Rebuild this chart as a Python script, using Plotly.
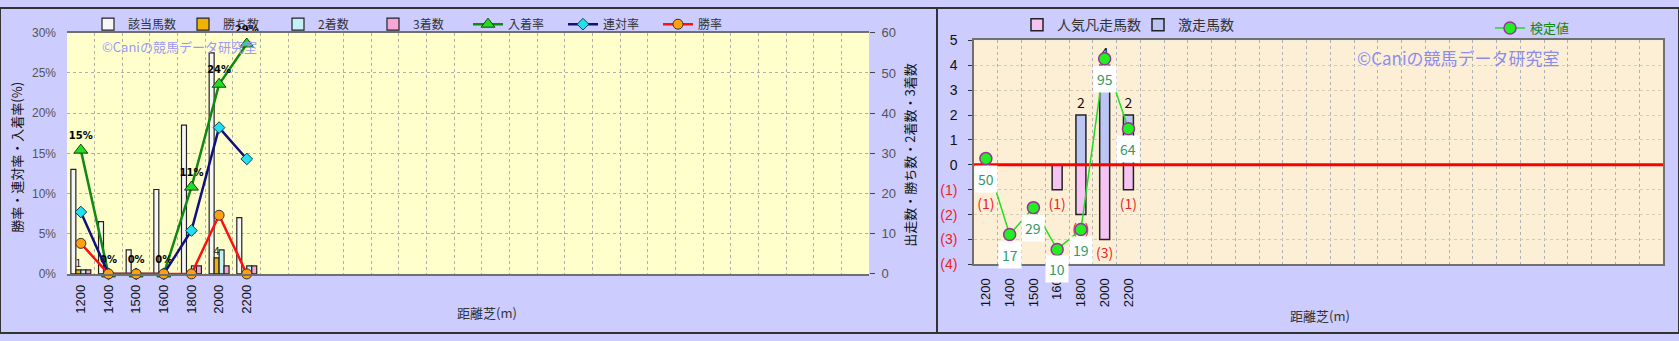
import plotly.graph_objects as go

# ---------------- data ----------------
distances = ["1200", "1400", "1500", "1600", "1800", "2000", "2200"]
right_tick_labels = ["1200", "1400", "1500", "160", "1800", "2000", "2200"]
n_slots = 29  # category slots shown on each x axis

runners = [26, 13, 6, 21, 37, 55, 14]
wins = [1, 0, 0, 0, 0, 4, 0]
seconds = [1, 0, 0, 0, 2, 6, 2]
thirds = [1, 0, 0, 0, 2, 2, 2]
place_rate = [15.4, 0, 0, 0, 10.8, 23.6, 28.6]
quinella_rate = [7.7, 0, 0, 0, 5.4, 18.2, 14.3]
win_rate = [3.8, 0, 0, 0, 0, 7.3, 0]

popular_fail = [-1, 0, 0, -1, -2, -3, -1]
upset = [0, 0, 0, 0, 2, 4, 2]
test_value = [0.25, -2.8, -1.72, -3.4, -2.6, 4.26, 1.45]
test_labels = ["50", "17", "29", "10", "19", "95", "64"]

# --------------- figure ---------------
W, H = 1679, 341
JP = "Noto Sans CJK JP"
idx = list(range(len(distances)))

def px_x(p):
    return p / W

def px_y(p):
    return 1 - p / H

fig = go.Figure()

bar_w = 0.18
bar_specs = [
    ("該当馬数", runners, "#f6f6f6", -2),
    ("勝ち数", wins, "#f0b400", -1),
    ("2着数", seconds, "#c4f0f8", 0),
    ("3着数", thirds, "#f4a6d4", 1),
]
for name, vals, col, k in bar_specs:
    txt = None
    if name == "勝ち数":
        txt = [str(v) if v > 0 else "" for v in vals]
    fig.add_trace(go.Bar(
        x=idx, y=vals, name=name, width=bar_w, offset=k * bar_w,
        marker=dict(color=col, line=dict(color="#222222", width=1.2)),
        text=txt, textposition="outside", constraintext="none", cliponaxis=False,
        textfont=dict(size=11, color="#222", family=JP),
        xaxis="x", yaxis="y", legend="legend",
    ))

fig.add_trace(go.Scatter(
    x=idx, y=place_rate, name="入着率", mode="lines+markers+text",
    line=dict(color="#118811", width=2.5),
    marker=dict(symbol="triangle-up", size=12, color="#22dd22", line=dict(color="#114411", width=1)),
    text=[f"{round(v)}%" for v in place_rate], textposition="top center",
    textfont=dict(size=10, color="#000", family="DejaVu Sans", weight="bold"),
    cliponaxis=False, xaxis="x", yaxis="y2", legend="legend",
))
fig.add_trace(go.Scatter(
    x=idx, y=quinella_rate, name="連対率", mode="lines+markers",
    line=dict(color="#101080", width=2.5),
    marker=dict(symbol="diamond", size=9, color="#22e0f0", line=dict(color="#104050", width=1)),
    cliponaxis=False, xaxis="x", yaxis="y2", legend="legend",
))
fig.add_trace(go.Scatter(
    x=idx, y=win_rate, name="勝率", mode="lines+markers",
    line=dict(color="#ff1010", width=2.5),
    marker=dict(symbol="circle", size=10, color="#ffa010", line=dict(color="#333", width=1)),
    cliponaxis=False, xaxis="x", yaxis="y2", legend="legend",
))

# right chart
rbw = 0.42
fig.add_trace(go.Bar(
    x=idx, y=popular_fail, name="人気凡走馬数", width=rbw, offset=-rbw / 2,
    marker=dict(color="#f6c4f2", line=dict(color="#222", width=1.5)),
    text=[f"({-v})" if v < 0 else "" for v in popular_fail], textposition="outside",
    constraintext="none", cliponaxis=False,
    textfont=dict(size=14, color="#ee2222", family=JP),
    xaxis="x2", yaxis="y3", legend="legend2",
))
fig.add_trace(go.Bar(
    x=idx, y=upset, name="激走馬数", width=rbw, offset=-rbw / 2,
    marker=dict(color="#bcc6f4", line=dict(color="#222", width=1.5)),
    text=[str(v) if v > 0 else "" for v in upset], textposition="outside",
    constraintext="none", cliponaxis=False,
    textfont=dict(size=14, color="#111", family=JP),
    xaxis="x2", yaxis="y3", legend="legend2",
))
fig.add_trace(go.Scatter(
    x=[-0.5, n_slots - 0.5], y=[0, 0], mode="lines", showlegend=False,
    line=dict(color="#ff0000", width=3), hoverinfo="skip",
    xaxis="x2", yaxis="y3",
))
fig.add_trace(go.Scatter(
    x=idx, y=test_value, name="検定値", mode="lines+markers",
    line=dict(color="#22dd22", width=1.5),
    marker=dict(symbol="circle", size=12, color="#22ee22", line=dict(color="#993399", width=1.5)),
    cliponaxis=False, xaxis="x2", yaxis="y3", legend="legend3",
))
for i, (v, lab) in enumerate(zip(test_value, test_labels)):
    fig.add_annotation(
        x=i, y=v, xref="x2", yref="y3", text=lab, showarrow=False, yshift=-20,
        bgcolor="#ffffff", borderpad=3,
        font=dict(size=14, color="#339966", family=JP),
    )

grid = "#b0b0b0"
xa_common = dict(
    range=[-0.5, n_slots - 0.5], tickmode="array", tickvals=idx, tickangle=-90,
    showgrid=False, zeroline=False, ticks="",
    minor=dict(tick0=0.5, dtick=1, showgrid=True, gridcolor=grid, griddash="dot", gridwidth=1, ticks=""),
    showline=True, linecolor="#707070", linewidth=1.5, mirror=True,
    tickfont=dict(size=13, color="#111", family="Liberation Sans"),
)

fig.update_layout(
    width=W, height=H, margin=dict(l=0, r=0, t=0, b=0),
    paper_bgcolor="#ccccff", plot_bgcolor="#ffffcc",
    font=dict(family=JP, color="#333"),
    xaxis=dict(domain=[px_x(67), px_x(869)], anchor="y", ticktext=distances,
               ticklabelstandoff=4, **xa_common),
    yaxis=dict(domain=[px_y(279), px_y(26)], anchor="x", side="right", range=[0, 60], dtick=10,
               showgrid=True, gridcolor=grid, griddash="dot", zeroline=False,
               ticks="outside", ticklen=5, tickcolor="#444", ticklabelstandoff=4,
               tickfont=dict(size=13, color="#555", family="Liberation Sans")),
    yaxis2=dict(overlaying="y", anchor="x", side="left", range=[0, 30], dtick=5, ticksuffix="%",
                showgrid=False, zeroline=False, ticklabelstandoff=10,
                tickfont=dict(size=12, color="#555", family="Liberation Sans")),
    xaxis2=dict(domain=[px_x(974), px_x(1663)], anchor="y3", ticktext=right_tick_labels,
                ticklabelstandoff=7, **xa_common),
    yaxis3=dict(domain=[px_y(269), px_y(34)], anchor="x2", range=[-4, 5],
                tickmode="array", tickvals=list(range(-4, 6)),
                ticktext=[f"<span style='color:#ee2222'>({-v})</span>" if v < 0 else str(v) for v in range(-4, 6)],
                showgrid=True, gridcolor="#d8ccb0", griddash="dot", zeroline=False,
                ticks="outside", ticklen=4, tickcolor="#333", ticklabelstandoff=8,
                showline=True, linecolor="#707070", linewidth=1.5, mirror=True,
                tickfont=dict(size=14, color="#111", family="Liberation Sans")),
    barmode="overlay",
    legend=dict(orientation="h", x=px_x(88), y=px_y(17), xanchor="left", yanchor="middle",
                bgcolor="rgba(0,0,0,0)", font=dict(size=12, color="#333", family=JP),
                itemwidth=30, entrywidth=50, traceorder="normal"),
    legend2=dict(orientation="h", x=px_x(1017), y=px_y(18), xanchor="left", yanchor="middle",
                 bgcolor="rgba(0,0,0,0)", font=dict(size=14, color="#333", family=JP),
                 itemwidth=30, entrywidth=76),
    legend3=dict(orientation="h", x=px_x(1490), y=px_y(21), xanchor="left", yanchor="middle",
                 bgcolor="rgba(0,0,0,0)", font=dict(size=13, color="#118811", family=JP),
                 itemwidth=30),
)

# the right plot area background (parchment)
fig.add_shape(type="rect", xref="x2 domain", yref="y3 domain", x0=0, x1=1, y0=0, y1=1,
              fillcolor="#fcefd6", line=dict(width=0), layer="below")

# axis titles and watermarks
def note(x, y, text, size, color, angle=0):
    fig.add_annotation(x=px_x(x), y=px_y(y), xref="paper", yref="paper", text=text,
                       textangle=angle, showarrow=False, xanchor="center", yanchor="middle",
                       font=dict(size=size, color=color, family=JP))

note(17, 157, "勝率・連対率・入着率(%)", 13, "#111", -90)
note(910, 155, "出走数・勝ち数・2着数・3着数", 13, "#111", -90)
note(487, 319, "距離芝(m)", 13, "#333")
note(1320, 323, "距離芝(m)", 13, "#333")
note(179, 40, "©Caniの競馬データ研究室", 13, "#9a9af6")
note(1458, 52, "©Caniの競馬データ研究室", 17, "#8c8cee")

# frame and separator
fig.add_shape(type="rect", xref="paper", yref="paper", x0=0, x1=1, y0=0, y1=1,
              line=dict(color="#333", width=2), fillcolor="rgba(0,0,0,0)")
fig.add_shape(type="line", xref="paper", yref="paper", x0=px_x(937), x1=px_x(937), y0=0, y1=1,
              line=dict(color="#333", width=2))

fig.write_html("out.html")
